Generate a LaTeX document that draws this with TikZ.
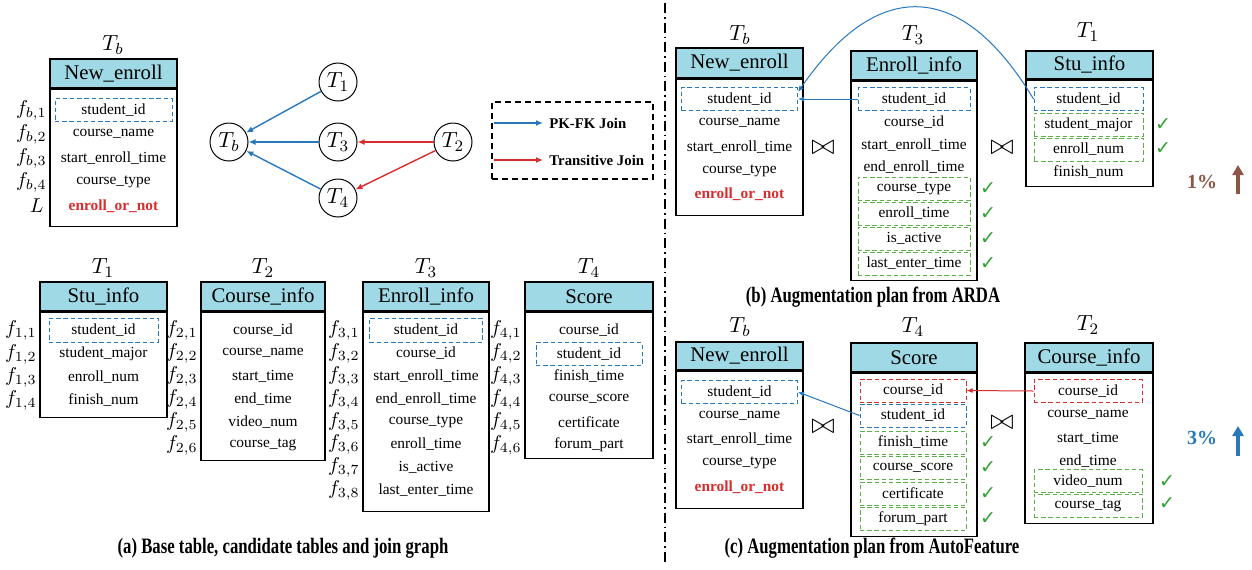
\documentclass[tikz,border=0pt]{standalone}
\usepackage{fontspec}
\setmainfont{Liberation Serif}
\newfontfamily\capfont[FakeStretch=0.76]{Liberation Serif}
\newfontfamily\symfont{DejaVu Sans}
\usetikzlibrary{positioning, arrows.meta, calc}

\definecolor{headcyan}{RGB}{158,217,229}
\definecolor{joinblue}{RGB}{40,120,190}
\definecolor{joinred}{RGB}{215,45,45}
\definecolor{keygreen}{RGB}{90,175,70}
\definecolor{checkgreen}{RGB}{50,160,50}
\definecolor{gainbrown}{RGB}{140,85,70}

\tikzset{
  tabhead/.style={draw, line width=0.7pt, fill=headcyan, inner sep=0pt, font=\fontsize{10.4}{12}\selectfont},
  tabbody/.style={draw, line width=0.7pt, fill=white, inner sep=0pt},
  row/.style={inner sep=0pt, font=\fontsize{7.7}{9}\selectfont},
  target/.style={row, text=joinred, font=\fontsize{7.7}{9}\selectfont\bfseries},
  keybox/.style={row, draw, line width=0.5pt, dash pattern=on 2.2pt off 1.4pt, minimum height=11.5pt},
  bluekey/.style={keybox, draw=joinblue},
  redkey/.style={keybox, draw=joinred},
  greenkey/.style={keybox, draw=keygreen},
  flabel/.style={inner sep=0pt, anchor=east, font=\fontsize{10}{12}\selectfont},
  tname/.style={inner sep=0pt, font=\fontsize{11}{13}\selectfont},
  tcircle/.style={circle, draw, line width=0.5pt, minimum size=19pt, inner sep=0pt, font=\fontsize{11}{13}\selectfont},
  pkfk/.style={joinblue, line width=0.7pt, -{Latex[length=3.5pt,width=3pt]}},
  trans/.style={joinred, line width=0.7pt, -{Latex[length=3.5pt,width=3pt]}},
  keylink/.style={line width=0.5pt, -{Latex[length=3pt,width=2.5pt]}},
  legendtxt/.style={inner sep=0pt, anchor=west, font=\fontsize{7.4}{9}\selectfont\bfseries},
  check/.style={inner sep=0pt, text=checkgreen, font=\symfont\fontsize{9.5}{11}\selectfont},
  joinop/.style={inner sep=0pt, font=\fontsize{15}{17}\selectfont},
  gain/.style={inner sep=0pt, font=\fontsize{10}{12}\selectfont\bfseries},
  gainarrow/.style={line width=1.6pt, -{Triangle[length=5pt,width=5.5pt]}},
  caption/.style={inner sep=0pt, font=\capfont\bfseries\fontsize{11}{13}\selectfont},
}

\begin{document}
\begin{tikzpicture}[x=0.5pt, y=-0.5pt]
    \useasboundingbox (0,0) rectangle (1252,569);

    % (a) Base table
    \node[tname] (tbA) at (113,45) {$T_b$};
    \node[tabhead, minimum width=63.5pt, minimum height=14.5pt] (neA) at (113.5,73.5) {New\_enroll};
    \node[tabbody, minimum width=63.5pt, minimum height=68.5pt, below=0pt of neA] (neAb) {};
    \node[bluekey, minimum width=58.5pt] (neA1) at (113.5,110) {student\_id};
    \node[row] (neA2) at (113.5,134) {course\_name};
    \node[row] (neA3) at (113.5,158) {start\_enroll\_time};
    \node[row] (neA4) at (113.5,182) {course\_type};
    \node[target] (neA5) at (113.5,206) {enroll\_or\_not};
    \foreach \i/\y in {1/110,2/134,3/158,4/182}
        \node[flabel] (fb\i) at (47,\y) {$f_{b,\i}$};
    \node[flabel] (fL) at (44,206) {$L$};

    % (a) Join graph
    \node[tcircle] (gTb) at (229,142) {$T_b$};
    \node[tcircle] (gT1) at (338,82) {$T_1$};
    \node[tcircle] (gT3) at (338,142) {$T_3$};
    \node[tcircle] (gT2) at (453,142) {$T_2$};
    \node[tcircle] (gT4) at (338,198) {$T_4$};
    \draw[pkfk] (gT1) -- (gTb);
    \draw[pkfk] (gT3) -- (gTb);
    \draw[pkfk] (gT4) -- (gTb);
    \draw[trans] (gT2) -- (gT3);
    \draw[trans] (gT2) -- (gT4);

    % (a) Legend
    \node[draw, line width=0.6pt, dash pattern=on 3pt off 2pt, minimum width=80.5pt, minimum height=38.5pt] (legend) at (572.5,140.5) {};
    \coordinate (lg1a) at (494,123);
    \coordinate (lg1b) at (543,123);
    \coordinate (lg2a) at (494,160);
    \coordinate (lg2b) at (543,160);
    \draw[pkfk] (lg1a) -- (lg1b);
    \draw[trans] (lg2a) -- (lg2b);
    \node[legendtxt] (lg1t) at (549,123) {PK-FK Join};
    \node[legendtxt] (lg2t) at (549,160) {Transitive Join};

    % (a) Candidate tables
    \node[tname] (t1A) at (103,268) {$T_1$};
    \node[tabhead, minimum width=63.5pt, minimum height=14.5pt] (siA) at (103.5,296.5) {Stu\_info};
    \node[tabbody, minimum width=63.5pt, minimum height=52.5pt, below=0pt of siA] (siAb) {};
    \node[bluekey, minimum width=54.5pt, minimum height=12pt] (siA1) at (103.5,330) {student\_id};
    \foreach \t/\y [count=\i from 2] in {student\_major/354, enroll\_num/377, finish\_num/400}
        \node[row] (siA\i) at (103.5,\y) {\t};
    \foreach \i/\y in {1/330,2/354,3/377,4/400}
        \node[flabel] (f1\i) at (37,\y) {$f_{1,\i}$};

    \node[tname] (t2A) at (263,268) {$T_2$};
    \node[tabhead, minimum width=62pt, minimum height=14.5pt] (ciA) at (263,296.5) {Course\_info};
    \node[tabbody, minimum width=62pt, minimum height=74pt, below=0pt of ciA] (ciAb) {};
    \foreach \t/\y [count=\i] in {course\_id/330, course\_name/353, start\_time/376, end\_time/399, video\_num/422, course\_tag/445}
        \node[row] (ciA\i) at (263,\y) {\t};
    \foreach \i/\y in {1/330,2/353,3/376,4/399,5/422,6/445}
        \node[flabel] (f2\i) at (198,\y) {$f_{2,\i}$};

    \node[tname] (t3A) at (426,268) {$T_3$};
    \node[tabhead, minimum width=63pt, minimum height=14.5pt] (eiA) at (426,296.5) {Enroll\_info};
    \node[tabbody, minimum width=63pt, minimum height=99.5pt, below=0pt of eiA] (eiAb) {};
    \node[bluekey, minimum width=56.5pt, minimum height=12pt] (eiA1) at (426,330) {student\_id};
    \foreach \t/\y [count=\i from 2] in {course\_id/353, start\_enroll\_time/376, end\_enroll\_time/399, course\_type/422, enroll\_time/444, is\_active/467, last\_enter\_time/490}
        \node[row] (eiA\i) at (426,\y) {\t};
    \foreach \i/\y in {1/330,2/353,3/376,4/399,5/422,6/444,7/467,8/490}
        \node[flabel] (f3\i) at (360,\y) {$f_{3,\i}$};

    \node[tname] (t4A) at (589,268) {$T_4$};
    \node[tabhead, minimum width=64pt, minimum height=14.5pt] (scA) at (589,296.5) {Score};
    \node[tabbody, minimum width=64pt, minimum height=73pt, below=0pt of scA] (scAb) {};
    \node[row] (scA1) at (589,330) {course\_id};
    \node[bluekey, minimum width=53pt] (scA2) at (589,354) {student\_id};
    \foreach \t/\y [count=\i from 3] in {finish\_time/376, course\_score/399, certificate/422, forum\_part/445}
        \node[row] (scA\i) at (589,\y) {\t};
    \foreach \i/\y in {1/330,2/353,3/376,4/399,5/422,6/445}
        \node[flabel] (f4\i) at (522,\y) {$f_{4,\i}$};

    \node[caption] (capA) at (283,548) {(a) Base table, candidate tables and join graph};

    % divider
    \coordinate (divtop) at (665,3);
    \coordinate (divbot) at (665,563);
    \draw[line width=0.6pt, dash pattern=on 5pt off 2pt on 0.8pt off 2pt] (divtop) -- (divbot);

    % (b) Augmentation plan from ARDA
    \node[tname] (tbB) at (740,35) {$T_b$};
    \node[tabhead, minimum width=63.5pt, minimum height=15pt] (neB) at (739.5,63) {New\_enroll};
    \node[tabbody, minimum width=63.5pt, minimum height=68pt, below=0pt of neB] (neBb) {};
    \node[bluekey, minimum width=58pt] (neB1) at (739.5,99) {student\_id};
    \node[row] (neB2) at (739.5,123) {course\_name};
    \node[row] (neB3) at (739.5,147) {start\_enroll\_time};
    \node[row] (neB4) at (739.5,171) {course\_type};
    \node[target] (neB5) at (739.5,194) {enroll\_or\_not};
    \node[joinop] (jB1) at (823,148) {$\bowtie$};

    \node[tname] (t3B) at (913,35) {$T_3$};
    \node[tabhead, minimum width=63pt, minimum height=14.5pt] (eiB) at (914,65.5) {Enroll\_info};
    \node[tabbody, minimum width=63pt, minimum height=99.5pt, below=0pt of eiB] (eiBb) {};
    \node[bluekey, minimum width=56pt] (eiB1) at (914,99) {student\_id};
    \node[row] (eiB2) at (914,122) {course\_id};
    \node[row] (eiB3) at (914,145) {start\_enroll\_time};
    \node[row] (eiB4) at (914,167) {end\_enroll\_time};
    \foreach \t/\y [count=\i from 5] in {course\_type/188.5, enroll\_time/213.5, is\_active/238.5, last\_enter\_time/263.5}{
        \node[greenkey, minimum width=56pt] (eiB\i) at (914,\y) {\t};
        \node[check] (ckB\i) at (988,\y) {✓};
    }
    \node[joinop] (jB2) at (1002,148) {$\bowtie$};

    \node[tname] (t1B) at (1088,32) {$T_1$};
    \node[tabhead, minimum width=63.5pt, minimum height=14pt] (siB) at (1089.5,65) {Stu\_info};
    \node[tabbody, minimum width=63.5pt, minimum height=53pt, below=0pt of siB] (siBb) {};
    \node[bluekey, minimum width=54.5pt] (siB1) at (1088.5,99) {student\_id};
    \node[greenkey, minimum width=54.5pt] (siB2) at (1088.5,124.5) {student\_major};
    \node[greenkey, minimum width=54.5pt] (siB3) at (1088.5,149.5) {enroll\_num};
    \node[row] (siB4) at (1088.5,172) {finish\_num};
    \node[check] (ckS2) at (1163,125) {✓};
    \node[check] (ckS3) at (1163,149) {✓};

    \draw[keylink, joinblue] (eiB1.west) -- (neB1.east);
    \draw[keylink, joinblue] (siB1.west) .. controls (962,-20) and (878,-24) .. ($(neB1.east)+(0,-7)$);

    \node[gain, text=gainbrown] (gainB) at (1202,182) {1\%};
    \coordinate (upB0) at (1238,194);
    \coordinate (upB1) at (1238,165);
    \draw[gainarrow, gainbrown] (upB0) -- (upB1);

    \node[caption] (capB) at (873,297) {(b) Augmentation plan from ARDA};

    % (c) Augmentation plan from AutoFeature
    \node[tname] (tbC) at (740,327) {$T_b$};
    \node[tabhead, minimum width=63.5pt, minimum height=14pt] (neC) at (739.5,356) {New\_enroll};
    \node[tabbody, minimum width=63.5pt, minimum height=68.5pt, below=0pt of neC] (neCb) {};
    \node[bluekey, minimum width=58pt] (neC1) at (739.5,392) {student\_id};
    \node[row] (neC2) at (739.5,416) {course\_name};
    \node[row] (neC3) at (739.5,439) {start\_enroll\_time};
    \node[row] (neC4) at (739.5,463) {course\_type};
    \node[target] (neC5) at (739.5,487) {enroll\_or\_not};
    \node[joinop] (jC1) at (823,427) {$\bowtie$};

    \node[tname] (t4C) at (913,327) {$T_4$};
    \node[tabhead, minimum width=63pt, minimum height=14.5pt] (scC) at (914,357.5) {Score};
    \node[tabbody, minimum width=63pt, minimum height=81.5pt, below=0pt of scC] (scCb) {};
    \node[redkey, minimum width=53pt] (scC1) at (913,390.5) {course\_id};
    \node[bluekey, minimum width=53pt] (scC2) at (913,415.5) {student\_id};
    \foreach \t/\y [count=\i from 3] in {finish\_time/442.5, course\_score/467.5, certificate/493.5, forum\_part/519}{
        \node[greenkey, minimum width=53pt] (scC\i) at (913,\y) {\t};
        \node[check] (ckC\i) at (988,\y) {✓};
    }
    \node[joinop] (jC2) at (1002,423) {$\bowtie$};

    \node[tname] (t2C) at (1088,325) {$T_2$};
    \node[tabhead, minimum width=64pt, minimum height=14.5pt] (ciC) at (1089,357.5) {Course\_info};
    \node[tabbody, minimum width=64pt, minimum height=75pt, below=0pt of ciC] (ciCb) {};
    \node[redkey, minimum width=54pt] (ciC1) at (1088,391) {course\_id};
    \node[row] (ciC2) at (1088,415) {course\_name};
    \node[row] (ciC3) at (1088,438) {start\_time};
    \node[row] (ciC4) at (1088,461) {end\_time};
    \node[greenkey, minimum width=54pt] (ciC5) at (1088,481) {video\_num};
    \node[greenkey, minimum width=54pt] (ciC6) at (1088,505.5) {course\_tag};
    \node[check] (ckD5) at (1167,482) {✓};
    \node[check] (ckD6) at (1167,504) {✓};

    \draw[keylink, joinblue] (scC2.west) -- (neC1.east);
    \draw[keylink, joinred] (ciC1.west) -- (scC1.east);

    \node[gain, text=joinblue] (gainC) at (1202,438) {3\%};
    \coordinate (upC0) at (1238,456);
    \coordinate (upC1) at (1238,426);
    \draw[gainarrow, joinblue] (upC0) -- (upC1);

    \node[caption] (capC) at (872,548) {(c) Augmentation plan from AutoFeature};
\end{tikzpicture}
\end{document}
